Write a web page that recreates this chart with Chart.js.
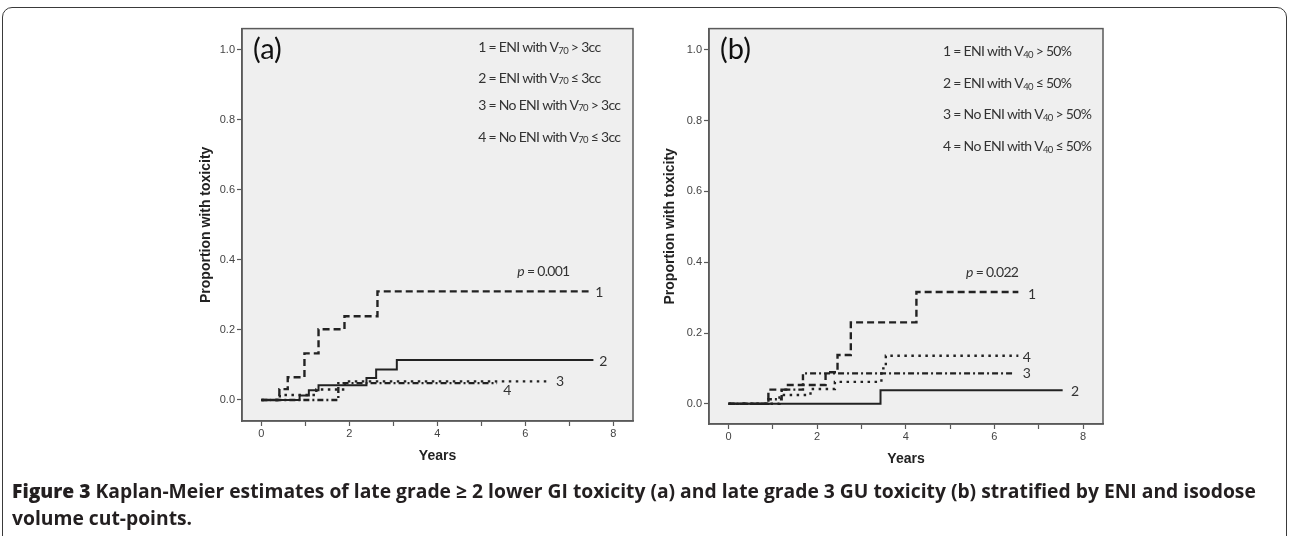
<!DOCTYPE html>
<html lang="en">
<head>
<meta charset="UTF-8">
<title>Figure 3 Kaplan-Meier estimates</title>
<script src="https://cdn.jsdelivr.net/npm/chart.js"></script>
<style>
  body { margin: 0; background: #fff; width: 1290px; height: 536px; overflow: hidden; position: relative; }
  .frame { position: absolute; left: 2px; top: 7px; width: 1285px; height: 600px; box-sizing: border-box;
           border: 1.5px solid #3a3a3a; border-radius: 10px; }
  canvas { position: absolute; }
  #chartA { left: 190px; top: 20px; }
  #chartB { left: 655px; top: 20px; }
  .caption { position: absolute; left: 12px; top: 477px; margin: 0; font: 700 19.3px "Open Sans", sans-serif;
             line-height: 27px; color: #231f20; white-space: nowrap; }
</style>
</head>
<body>
<div class="frame"></div>
<canvas id="chartA" width="460" height="460"></canvas>
<canvas id="chartB" width="465" height="460"></canvas>
<p class="caption"><b>Figure 3</b> Kaplan-Meier estimates of late grade ≥ 2 lower GI toxicity (a) and late grade 3 GU toxicity (b) stratified by ENI and isodose<br>volume cut-points.</p>

<script>
// panel (a): late grade >= 2 lower GI toxicity
const A_YEARS_1 = [0, 0.41, 0.6, 0.98, 1.3, 1.89, 2.64, 7.44];
const A_PROP_1  = [0, 0.031, 0.065, 0.133, 0.202, 0.239, 0.31, 0.31];
const A_YEARS_2 = [0, 0.87, 1.08, 1.3, 2.39, 2.61, 3.08, 7.55];
const A_PROP_2  = [0, 0.013, 0.028, 0.042, 0.063, 0.087, 0.114, 0.114];
const A_YEARS_3 = [0, 0.42, 1.25, 1.9, 6.57];
const A_PROP_3  = [0, 0.014, 0.03, 0.053, 0.053];
const A_YEARS_4 = [0, 1.75, 5.36];
const A_PROP_4  = [0, 0.048, 0.048];
const A_KEYS = ['1 = ENI with V{70} > 3cc', '2 = ENI with V{70} ≤ 3cc',
                '3 = No ENI with V{70} > 3cc', '4 = No ENI with V{70} ≤ 3cc'];

// panel (b): late grade 3 GU toxicity
const B_YEARS_1 = [0, 0.9, 1.3, 2.19, 2.46, 2.76, 4.24, 6.54];
const B_PROP_1  = [0, 0.04, 0.053, 0.089, 0.138, 0.23, 0.316, 0.316];
const B_YEARS_2 = [0, 3.43, 7.54];
const B_PROP_2  = [0, 0.038, 0.038];
const B_YEARS_3 = [0, 0.9, 1.2, 1.68, 6.45];
const B_PROP_3  = [0, 0.013, 0.04, 0.086, 0.086];
const B_YEARS_4 = [0, 1.15, 1.85, 2.4, 3.45, 3.55, 6.54];
const B_PROP_4  = [0, 0.025, 0.042, 0.062, 0.1, 0.136, 0.136];
const B_KEYS = ['1 = ENI with V{40} > 50%', '2 = ENI with V{40} ≤ 50%',
                '3 = No ENI with V{40} > 50%', '4 = No ENI with V{40} ≤ 50%'];

const Y_TICKS = [0, 0.2, 0.4, 0.6, 0.8, 1.0];
const X_TICKS = [0, 1, 2, 3, 4, 5, 6, 7, 8];

const LINE = '#222';
const DASHED = [7, 4];
const DOTTED = [2.5, 4.5];
const DASHDOT = [6, 3, 2, 3];

function pts(xs, ys) { return xs.map((x, i) => ({ x: x, y: ys[i] })); }

function drawRich(ctx, str, x, y) {
  // text with {nn} parts as subscript
  const parts = str.split(/\{(\d+)\}/);
  let cx = x;
  parts.forEach((p, i) => {
    if (i % 2) {
      ctx.font = '9.5px Lato';
      ctx.fillText(p, cx, y + 3);
    } else {
      ctx.font = '14px Lato';
      ctx.fillText(p, cx, y);
    }
    cx += ctx.measureText(p).width;
  });
}

const panelDecor = {
  id: 'panelDecor',
  beforeDraw(chart) {
    const { ctx, chartArea: a } = chart;
    ctx.save();
    ctx.fillStyle = '#efefef';
    ctx.fillRect(a.left, a.top, a.width, a.height);
    ctx.restore();
  },
  afterDraw(chart, args, o) {
    const { ctx, chartArea: a, scales: { x, y } } = chart;
    ctx.save();
    ctx.strokeStyle = '#5a5a5a';
    ctx.lineWidth = 1.5;
    ctx.strokeRect(a.left, a.top, a.width, a.height);

    ctx.fillStyle = '#111';
    ctx.font = '29px Lato';
    ctx.textBaseline = 'middle';
    ctx.textAlign = 'left';
    ctx.fillText(o.tag, a.left + 11, a.top + 21);

    ctx.fillStyle = '#333';
    ctx.letterSpacing = '-0.7px';
    o.keys.forEach((k, i) => drawRich(ctx, k, x.getPixelForValue(o.keyX), y.getPixelForValue(o.keyY[i])));

    const px = x.getPixelForValue(o.p.x), py = y.getPixelForValue(o.p.y);
    ctx.font = 'italic 14px Lato';
    ctx.fillText('p', px, py);
    const w = ctx.measureText('p').width;
    ctx.font = '14px Lato';
    ctx.fillText(' = ' + o.p.text, px + w, py);

    ctx.letterSpacing = '0px';
    ctx.font = '14px Lato';
    o.ends.forEach(l => ctx.fillText(l.text, x.getPixelForValue(l.x), y.getPixelForValue(l.y)));
    ctx.restore();
  }
};

function makePanel(id, series, opt) {
  const dashes = opt.dashes;
  return new Chart(document.getElementById(id), {
    type: 'line',
    data: {
      datasets: series.map((s, i) => ({
        data: s,
        borderColor: LINE,
        borderWidth: i === 1 ? 2 : 2.4,
        borderDash: dashes[i],
        stepped: 'before',
        pointRadius: 0,
        fill: false
      }))
    },
    options: {
      responsive: false,
      animation: false,
      layout: { padding: { top: 7, right: 17, left: 0, bottom: 0 } },
      plugins: { legend: { display: false }, tooltip: { enabled: false }, panelDecor: opt.decor },
      scales: {
        x: {
          type: 'linear', min: -0.44, max: 8.45,
          afterBuildTicks: s => { s.ticks = X_TICKS.map(v => ({ value: v })); },
          afterFit: s => { s.height = opt.xHeight; },
          ticks: { callback: v => (v % 2 === 0 ? v : ''), color: '#444', font: { family: 'Liberation Sans', size: 11 },
                   padding: 1, maxRotation: 0, autoSkip: false },
          grid: { drawOnChartArea: false, tickLength: 5, color: '#5a5a5a', tickWidth: 1.2 },
          border: { color: '#5a5a5a', width: 1.5 },
          title: { display: true, text: 'Years', color: '#222',
                   font: { family: 'Liberation Sans', size: 14, weight: 'bold' }, padding: { bottom: opt.xTitlePad } }
        },
        y: {
          min: opt.yMin, max: 1.06,
          afterBuildTicks: s => { s.ticks = Y_TICKS.map(v => ({ value: v })); },
          afterFit: s => { s.width = opt.yWidth; },
          ticks: { callback: v => v.toFixed(1), color: '#444', font: { family: 'Liberation Sans', size: 11 }, padding: 2 },
          grid: { drawOnChartArea: false, tickLength: 5, color: '#5a5a5a', tickWidth: 1.2 },
          border: { color: '#5a5a5a', width: 1.5 },
          title: { display: true, text: 'Proportion with toxicity', color: '#222',
                   font: { family: 'Liberation Sans', size: 14, weight: 'bold' }, padding: { top: opt.yTitlePad } }
        }
      }
    },
    plugins: [panelDecor]
  });
}

makePanel('chartA',
  [pts(A_YEARS_1, A_PROP_1), pts(A_YEARS_2, A_PROP_2), pts(A_YEARS_3, A_PROP_3), pts(A_YEARS_4, A_PROP_4)],
  {
    dashes: [DASHED, [], DOTTED, DASHDOT],
    yMin: -0.06, yWidth: 52, yTitlePad: 8, xHeight: 59, xTitlePad: 15,
    decor: {
      tag: '(a)', keys: A_KEYS, keyX: 4.93, keyY: [1.006, 0.918, 0.841, 0.75],
      p: { text: '0.001', x: 5.82, y: 0.366 },
      ends: [{ text: '1', x: 7.59, y: 0.307 }, { text: '2', x: 7.68, y: 0.111 },
             { text: '3', x: 6.7, y: 0.054 }, { text: '4', x: 5.5, y: 0.026 }]
    }
  });

makePanel('chartB',
  [pts(B_YEARS_1, B_PROP_1), pts(B_YEARS_2, B_PROP_2), pts(B_YEARS_3, B_PROP_3), pts(B_YEARS_4, B_PROP_4)],
  {
    dashes: [DASHED, [], DASHDOT, DOTTED],
    yMin: -0.057, yWidth: 54, yTitlePad: 7, xHeight: 56, xTitlePad: 12,
    decor: {
      tag: '(b)', keys: B_KEYS, keyX: 4.84, keyY: [0.994, 0.904, 0.817, 0.727],
      p: { text: '0.022', x: 5.36, y: 0.372 },
      ends: [{ text: '1', x: 6.76, y: 0.31 }, { text: '4', x: 6.64, y: 0.132 },
             { text: '3', x: 6.64, y: 0.085 }, { text: '2', x: 7.73, y: 0.034 }]
    }
  });
</script>
</body>
</html>
